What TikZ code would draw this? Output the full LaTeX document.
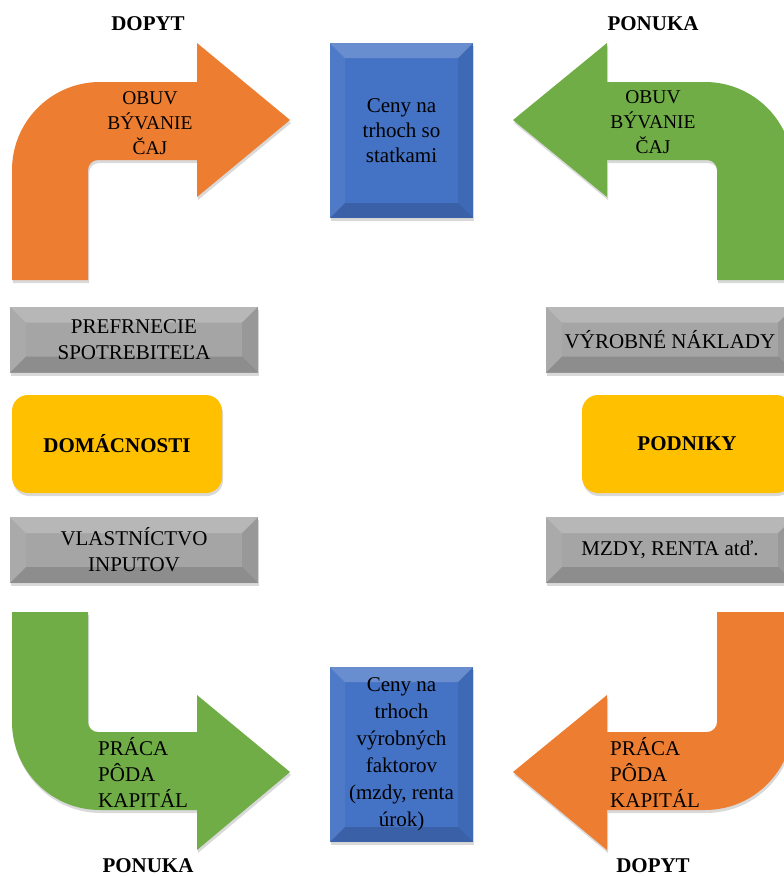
\documentclass[tikz,border=0pt]{standalone}
\usepackage{fontspec}
\setmainfont{Liberation Serif}
\usetikzlibrary{shadows}

\definecolor{porange}{HTML}{ED7D31}
\definecolor{pgreen}{HTML}{70AD47}
\definecolor{pblue}{HTML}{4472C4}
\definecolor{pgray}{HTML}{A5A5A5}
\definecolor{pgold}{HTML}{FFC000}

\begin{document}
\begin{tikzpicture}[x=1pt, y=-1pt,
    shadowed/.style={drop shadow={opacity=0.3, shadow xshift=1pt, shadow yshift=-3pt}},
    bevel/.style={path picture={
        \fill[white, opacity=0.2] (path picture bounding box.north west) -- (path picture bounding box.north east)
            -- ([shift={(-#1,-#1)}]path picture bounding box.north east) -- ([shift={(#1,-#1)}]path picture bounding box.north west) -- cycle;
        \fill[white, opacity=0.06] (path picture bounding box.north west) -- ([shift={(#1,-#1)}]path picture bounding box.north west)
            -- ([shift={(#1,#1)}]path picture bounding box.south west) -- (path picture bounding box.south west) -- cycle;
        \fill[black, opacity=0.08] (path picture bounding box.north east) -- ([shift={(-#1,-#1)}]path picture bounding box.north east)
            -- ([shift={(-#1,#1)}]path picture bounding box.south east) -- (path picture bounding box.south east) -- cycle;
        \fill[black, opacity=0.14] (path picture bounding box.south west) -- ([shift={(#1,#1)}]path picture bounding box.south west)
            -- ([shift={(-#1,#1)}]path picture bounding box.south east) -- (path picture bounding box.south east) -- cycle;
    }},
    txt/.style={font=\fontsize{21}{26}\selectfont, align=center, inner sep=0pt},
    price/.style={txt, fill=pblue, minimum width=143pt, minimum height=175pt, bevel=15pt, shadowed},
    note/.style={txt, fill=pgray, minimum width=248pt, minimum height=66pt, bevel=16pt, shadowed},
    agent/.style={txt, font=\fontsize{21}{26}\selectfont\bfseries, fill=pgold, rounded corners=16pt,
        minimum width=210pt, minimum height=98pt, shadowed},
    side/.style={font=\fontsize{21}{26}\selectfont\bfseries, inner sep=0pt},
    goods/.style={font=\fontsize{19.5}{25}\selectfont, align=center, inner sep=0pt},
    inputs/.style={font=\fontsize{21}{26}\selectfont, align=left, inner sep=0pt, anchor=west}
]
\useasboundingbox (0,0) rectangle (784,876);
\clip (0,0) rectangle (784,876);

\fill[porange, shadowed] (12,280) -- (12,170) arc[start angle=180, end angle=270, radius=88] -- (197,82) -- (197,43)
    -- (290,120) -- (197,197) -- (197,160) -- (98,160) arc[start angle=270, end angle=180, radius=10] -- (88,280) -- cycle;
\fill[pgreen, shadowed] (793,280) -- (793,170) arc[start angle=0, end angle=-90, radius=88] -- (607,82) -- (607,43)
    -- (513,120) -- (607,197) -- (607,160) -- (707,160) arc[start angle=270, end angle=360, radius=10] -- (717,280) -- cycle;
\fill[pgreen, shadowed] (12,612) -- (12,722) arc[start angle=180, end angle=90, radius=88] -- (197,810) -- (197,850)
    -- (290,772) -- (197,695) -- (197,732) -- (98,732) arc[start angle=90, end angle=180, radius=10] -- (88,612) -- cycle;
\fill[porange, shadowed] (793,612) -- (793,722) arc[start angle=0, end angle=90, radius=88] -- (607,810) -- (607,850)
    -- (513,772) -- (607,695) -- (607,732) -- (707,732) arc[start angle=90, end angle=0, radius=10] -- (717,612) -- cycle;

\node[goods] (goodsdem) at (150,123) {OBUV\\BÝVANIE\\ČAJ};
\node[goods] (goodssup) at (653,122) {OBUV\\BÝVANIE\\ČAJ};
\node[inputs] (inputsup) at (98,772) {PRÁCA\\PÔDA\\KAPITÁL};
\node[inputs] (inputdem) at (610,772) {PRÁCA\\PÔDA\\KAPITÁL};

\node[price, font=\fontsize{21}{25}\selectfont] (goodsmkt) at (401.5,130.5) {Ceny na\\trhoch so\\statkami};
\node[price, font=\fontsize{21}{27}\selectfont] (factormkt) at (401.5,754.5) {Ceny na\\trhoch\\výrobných\\faktorov\\(mzdy, renta\\úrok)};

\node[note] (prefs) at (134,339.5) {PREFRNECIE\\SPOTREBITEĽA};
\node[note] (owners) at (134,550) {VLASTNÍCTVO\\INPUTOV};
\node[note] (costs) at (670,339.5) {VÝROBNÉ NÁKLADY};
\node[note] (wages) at (670,550) {MZDY, RENTA atď.};

\node[agent] (homes) at (117,444) {DOMÁCNOSTI};
\node[agent] (firms) at (687,444) {PODNIKY};

\node[side] (demtop) at (148,24) {DOPYT};
\node[side] (suptop) at (653,24) {PONUKA};
\node[side] (supbot) at (148,866) {PONUKA};
\node[side] (dembot) at (653,866) {DOPYT};
\end{tikzpicture}
\end{document}
